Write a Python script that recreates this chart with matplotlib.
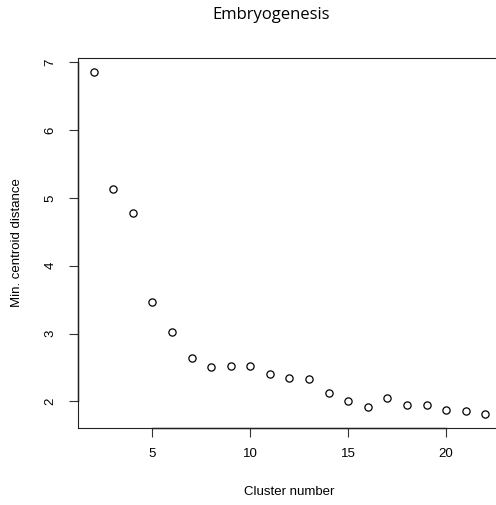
import matplotlib
matplotlib.use("Agg")
import matplotlib.pyplot as plt
from matplotlib.lines import Line2D

cluster_number = [2, 3, 4, 5, 6, 7, 8, 9, 10, 11, 12, 13, 14, 15, 16, 17, 18, 19, 20, 21, 22]
min_centroid_distance = [6.86, 5.13, 4.77, 3.47, 3.02, 2.64, 2.51, 2.52, 2.52, 2.41, 2.34, 2.33,
                         2.12, 2.01, 1.92, 2.05, 1.94, 1.95, 1.88, 1.86, 1.81]
x_ticks = [5, 10, 15, 20]
y_ticks = [2, 3, 4, 5, 6, 7]
title = "Embryogenesis"
xlabel = "Cluster number"
ylabel = "Min. centroid distance"

W, H = 496, 505
fig = plt.figure(figsize=(W / 100, H / 100), dpi=100)
left, right, top, bottom = 78, 501, 58, 428
ax = fig.add_axes([left / W, (H - bottom) / H, (right - left) / W, (bottom - top) / H])

ax.plot(cluster_number, min_centroid_distance, linestyle="none", marker="o",
        markersize=5.2, markerfacecolor="none", markeredgecolor="black", markeredgewidth=0.9)

xr = max(cluster_number) - min(cluster_number)
yr = max(min_centroid_distance) - min(min_centroid_distance)
ax.set_xlim(min(cluster_number) - 0.04 * xr, max(cluster_number) + 0.04 * xr)
ax.set_ylim(min(min_centroid_distance) - 0.04 * yr, max(min_centroid_distance) + 0.04 * yr)

ax.set_xticks(x_ticks)
ax.set_yticks(y_ticks)
tick_font = dict(family="Liberation Sans", size=9.5)
ax.set_xticklabels([str(t) for t in x_ticks], **tick_font)
ax.set_yticklabels([str(t) for t in y_ticks], rotation=90, va="center", **tick_font)
ax.tick_params(axis="both", length=6.5, width=0.8, color="#333333", pad=9)
ax.tick_params(axis="x", pad=8)

for s in ax.spines.values():
    s.set_linewidth(0.8)
    s.set_color("#222222")

# R-style axis lines spanning first to last tick
ax.add_line(Line2D([x_ticks[0], x_ticks[-1]], [ax.get_ylim()[0]] * 2, color="black",
                   lw=1.0, clip_on=False))
ax.add_line(Line2D([ax.get_xlim()[0]] * 2, [y_ticks[0], y_ticks[-1]], color="black",
                   lw=1.0, clip_on=False))

fig.text(17 / W, 1 - 243 / H, ylabel, rotation=90, ha="center", va="center",
         family="Liberation Sans", size=9.5)
fig.text(289 / W, 1 - 492 / H, xlabel, ha="center", va="center",
         family="Liberation Sans", size=9.5)
fig.text(271 / W, 1 - 15 / H, title, ha="center", va="center",
         family="Open Sans", size=12)

fig.savefig("out.png", dpi=100)
